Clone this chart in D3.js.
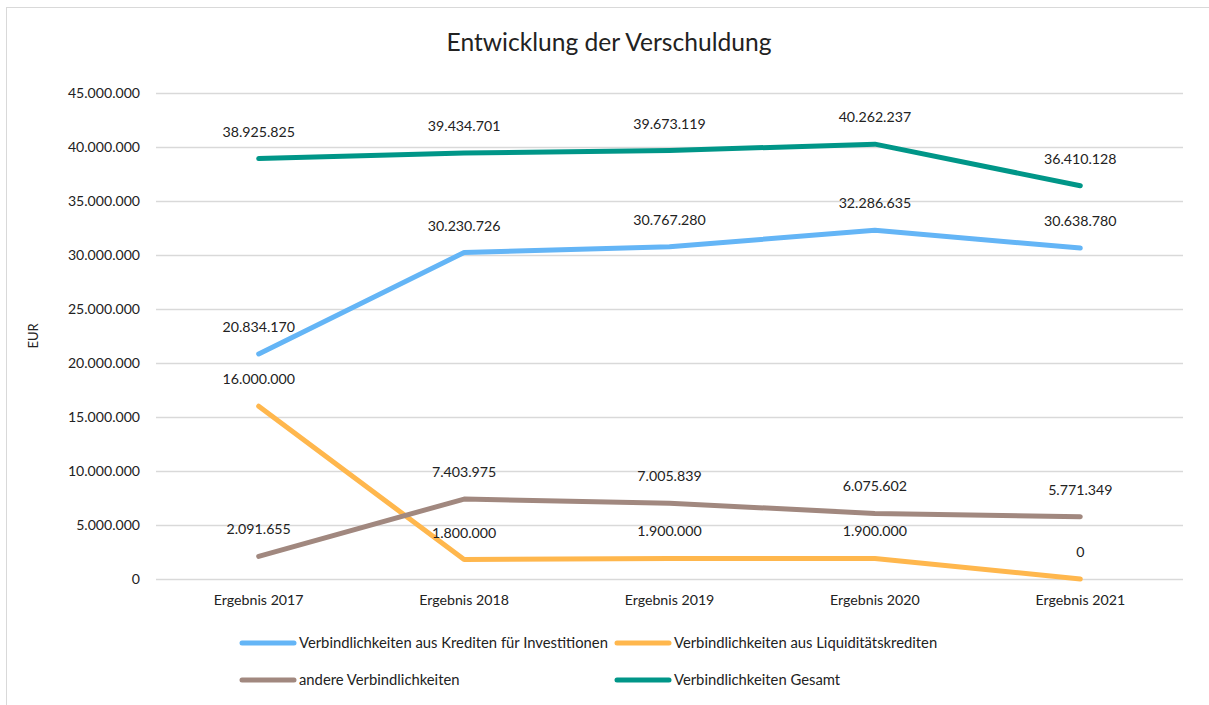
<!DOCTYPE html>
<html>
<head>
<meta charset="utf-8">
<script src="https://cdn.jsdelivr.net/npm/d3@7"></script>
<style>
  body { margin: 0; background: #fff; }
  svg { font-family: Lato, "Open Sans", sans-serif; }
</style>
</head>
<body>
<svg id="chart" width="1209" height="705"></svg>
<script>
const categories = ['Ergebnis 2017', 'Ergebnis 2018', 'Ergebnis 2019', 'Ergebnis 2020', 'Ergebnis 2021'];
const seriesNames = [
  'Verbindlichkeiten aus Krediten für Investitionen',
  'Verbindlichkeiten aus Liquiditätskrediten',
  'andere Verbindlichkeiten',
  'Verbindlichkeiten Gesamt'
];
const kredite = [20834170, 30230726, 30767280, 32286635, 30638780];
const liquiditaet = [16000000, 1800000, 1900000, 1900000, 0];
const andere = [2091655, 7403975, 7005839, 6075602, 5771349];
const gesamt = [38925825, 39434701, 39673119, 40262237, 36410128];
const yTicks = [0, 5000000, 10000000, 15000000, 20000000, 25000000, 30000000, 35000000, 40000000, 45000000];
const colors = ['#64b5f6', '#ffb74d', '#a1887f', '#009688'];

const series = [kredite, liquiditaet, andere, gesamt].map((values, i) => ({
  name: seriesNames[i], values: values, color: colors[i]
}));

const svg = d3.select('#chart');
const margin = {left: 156, right: 1183, top: 93, bottom: 579};

// outer frame
svg.append('rect')
  .attr('x', 6.5).attr('y', 7.5)
  .attr('width', 1240).attr('height', 720)
  .attr('fill', 'none').attr('stroke', '#d9d9d9').attr('stroke-width', 1);

svg.append('text')
  .attr('x', 609).attr('y', 51)
  .attr('text-anchor', 'middle')
  .attr('font-size', 24.6)
  .attr('fill', '#222')
  .text('Entwicklung der Verschuldung');

const x = d3.scaleBand().domain(categories).range([margin.left, margin.right]);
const y = d3.scaleLinear().domain([0, 45000000]).range([margin.bottom, margin.top]);

const fmt = v => d3.format(',')(v).replace(/,/g, '.');

// grid
svg.append('g')
  .attr('transform', `translate(${margin.left},0)`)
  .call(d3.axisLeft(y).tickValues(yTicks).tickSize(-(margin.right - margin.left)).tickFormat(fmt).tickPadding(16))
  .call(g => g.select('.domain').remove())
  .call(g => g.selectAll('.tick line').attr('stroke', '#d9d9d9').attr('stroke-width', 1.5))
  .call(g => g.selectAll('.tick text').attr('font-size', 14.1).attr('fill', '#222').attr('font-family', 'Lato, sans-serif'));

svg.append('g')
  .attr('transform', `translate(0,${margin.bottom})`)
  .call(d3.axisBottom(x).tickSize(0).tickPadding(16))
  .call(g => g.select('.domain').remove())
  .call(g => g.selectAll('.tick text').attr('font-size', 14.2).attr('fill', '#222').attr('font-family', 'Lato, sans-serif'));

svg.append('text')
  .attr('transform', 'translate(38,336) rotate(-90)')
  .attr('text-anchor', 'middle')
  .attr('font-size', 13)
  .attr('fill', '#222')
  .text('EUR');

const line = d3.line()
  .x((d, i) => x(categories[i]) + x.bandwidth() / 2)
  .y(d => y(d));

series.forEach(s => {
  svg.append('path')
    .datum(s.values)
    .attr('d', line)
    .attr('fill', 'none')
    .attr('stroke', s.color)
    .attr('stroke-width', 5)
    .attr('stroke-linecap', 'round')
    .attr('stroke-linejoin', 'round');
});

series.forEach(s => {
  svg.append('g').selectAll('text')
    .data(s.values)
    .join('text')
    .attr('x', (d, i) => x(categories[i]) + x.bandwidth() / 2)
    .attr('y', d => y(d) - 22)
    .attr('text-anchor', 'middle')
    .attr('font-size', 14.2)
    .attr('fill', '#222')
    .text(d => fmt(d));
});

// legend
const legendPos = [[240, 643], [615, 643], [240, 680], [615, 680]];
series.forEach((s, i) => {
  const [lx, ly] = legendPos[i];
  svg.append('line')
    .attr('x1', lx + 2).attr('x2', lx + 54)
    .attr('y1', ly).attr('y2', ly)
    .attr('stroke', s.color).attr('stroke-width', 5).attr('stroke-linecap', 'round');
  svg.append('text')
    .attr('x', lx + 59).attr('y', ly + 5)
    .attr('font-size', 14.8)
    .attr('fill', '#222')
    .text(s.name);
});
</script>
</body>
</html>
